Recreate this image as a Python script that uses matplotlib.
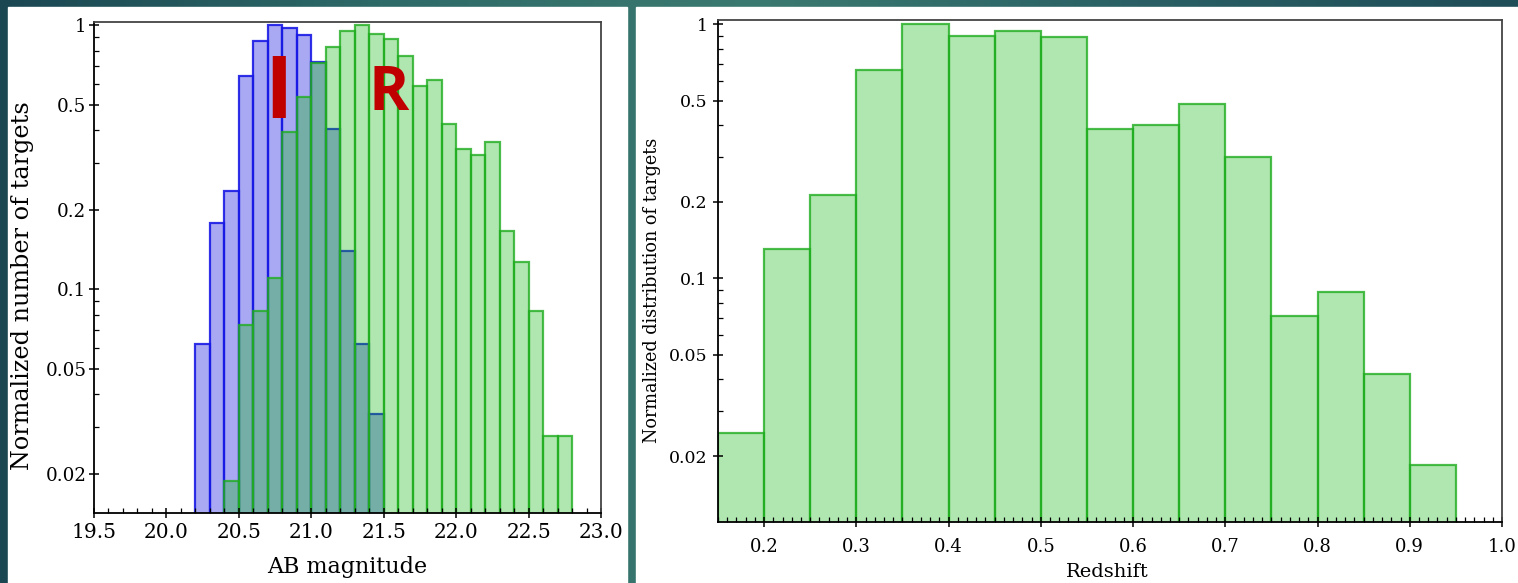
import matplotlib
matplotlib.use('Agg')
import matplotlib.pyplot as plt
import numpy as np
from matplotlib.colors import LinearSegmentedColormap
from matplotlib.patches import Rectangle
from matplotlib.ticker import FixedLocator, MultipleLocator, LogLocator, NullFormatter, FormatStrFormatter

# AB magnitude histograms, bin width 0.1
mag_bin = 0.1
mag_I_start = 20.2
mag_I = [0.061, 0.177, 0.234, 0.643, 0.87, 1.0, 0.97, 0.917, 0.726,
         0.404, 0.138, 0.0608, 0.0328]
mag_R_start = 20.4
mag_R = [0.0177, 0.0724, 0.0813, 0.109, 0.392, 0.531, 0.72, 0.824, 0.949,
         1.0, 0.925, 0.883, 0.765, 0.587, 0.619, 0.422, 0.338, 0.320, 0.36,
         0.165, 0.126, 0.0813, 0.0268, 0.0268]

# redshift histogram, bin width 0.05
z_bin = 0.05
z_start = 0.15
z_counts = [0.0236, 0.1295, 0.212, 0.659, 1.0, 0.898, 0.935, 0.886,
            0.385, 0.402, 0.485, 0.298, 0.0698, 0.0874, 0.041, 0.0175]

log_ticks = [0.02, 0.05, 0.1, 0.2, 0.5, 1]
log_labels = ['0.02', '0.05', '0.1', '0.2', '0.5', '1']

W, H = 1518, 583
fig = plt.figure(figsize=(W / 100, H / 100), dpi=100)

# teal backdrop with white panels
bg = fig.add_axes([0, 0, 1, 1], zorder=-10)
cmap = LinearSegmentedColormap.from_list('bg', ['#1b4753', '#2e6a68', '#3b7a70', '#2a6065', '#1f4d58'])
grad = np.linspace(0, 1, 256).reshape(1, -1)
bg.imshow(grad, cmap=cmap, aspect='auto', extent=[0, 1, 0, 1])
bg.add_patch(Rectangle((8 / W, 0), (627 - 8) / W, (H - 7) / H, color='white'))
bg.add_patch(Rectangle((636 / W, 0), (W - 636) / W, (H - 7) / H, color='white'))
bg.set_xlim(0, 1)
bg.set_ylim(0, 1)
bg.axis('off')

serif = 'DejaVu Serif'
green_face = (0.06, 0.72, 0.06, 0.33)
green_edge = (0.12, 0.68, 0.12, 0.8)
blue_face = (0.0, 0.02, 0.85, 0.34)
blue_edge = (0.1, 0.1, 0.9, 0.9)


def style_axes(ax, xsize, ysize):
    for side in ['left', 'bottom']:
        ax.spines[side].set_color('black')
        ax.spines[side].set_linewidth(1.3)
    for side in ['top', 'right']:
        ax.spines[side].set_color('#444444')
        ax.spines[side].set_linewidth(1.3)
    ax.set_yscale('log')
    ax.yaxis.set_major_locator(FixedLocator(log_ticks))
    ax.set_yticklabels(log_labels)
    ax.yaxis.set_minor_locator(LogLocator(base=10, subs=np.arange(2, 10)))
    ax.yaxis.set_minor_formatter(NullFormatter())
    ax.tick_params(which='major', direction='inout', length=7, width=1.1,
                   top=False, right=False)
    ax.tick_params(which='minor', direction='in', length=3.5, width=0.9,
                   top=False, right=False)
    ax.tick_params(axis='x', labelsize=xsize)
    ax.tick_params(axis='y', labelsize=ysize)
    for lab in ax.get_xticklabels() + ax.get_yticklabels():
        lab.set_fontfamily(serif)


# left: I and R magnitude distributions (R drawn over I)
ax1 = fig.add_axes([94 / W, 1 - 513 / H, (601 - 94) / W, (513 - 21.7) / H])
xI = mag_I_start + mag_bin * np.arange(len(mag_I))
xR = mag_R_start + mag_bin * np.arange(len(mag_R))
ax1.bar(xI, mag_I, width=mag_bin, align='edge', bottom=1e-3,
        color=blue_face, edgecolor=blue_edge, linewidth=1.6)
ax1.bar(xR, mag_R, width=mag_bin, align='edge', bottom=1e-3,
        color=green_face, edgecolor=green_edge, linewidth=1.6)
ax1.set_xlim(19.5, 23.0)
ax1.set_ylim(0.0142, 1.03)
ax1.xaxis.set_major_locator(MultipleLocator(0.5))
ax1.xaxis.set_minor_locator(MultipleLocator(0.1))
ax1.xaxis.set_major_formatter(FormatStrFormatter('%.1f'))
style_axes(ax1, 14.5, 13.2)
ax1.tick_params(axis='x', pad=4)
ax1.tick_params(axis='y', pad=2)
ax1.set_xlabel('AB magnitude', fontsize=16, family=serif)
ax1.xaxis.label.set_va('center')
ax1.xaxis.set_label_coords(0.5, -0.110)
ax1.set_ylabel('Normalized number of targets', fontsize=17.2, family=serif)
ax1.yaxis.label.set_va('center')
ax1.yaxis.set_label_coords(-0.142, 0.462)

ax1.text(20.777, 0.4455, 'I', color='#c00000', fontsize=62, fontweight='bold',
         family='Open Sans', ha='center', va='baseline')
ax1.text(21.536, 0.4765, 'R', color='#c00000', fontsize=44, fontweight='bold',
         family='Open Sans', ha='center', va='baseline')

# right: redshift distribution
ax2 = fig.add_axes([718 / W, 1 - 522 / H, (1502 - 718) / W, (522 - 20.4) / H])
xz = z_start + z_bin * np.arange(len(z_counts))
ax2.bar(xz, z_counts, width=z_bin, align='edge', bottom=1e-3,
        color=green_face, edgecolor=green_edge, linewidth=1.6)
ax2.set_xlim(0.15, 1.0)
ax2.set_ylim(0.011, 1.035)
ax2.xaxis.set_major_locator(FixedLocator(np.round(np.arange(0.2, 1.01, 0.1), 1)))
ax2.xaxis.set_minor_locator(MultipleLocator(0.01))
ax2.xaxis.set_major_formatter(FormatStrFormatter('%.1f'))
style_axes(ax2, 13, 12.5)
ax2.tick_params(axis='x', pad=8)
ax2.tick_params(axis='y', pad=4)
ax2.set_xlabel('Redshift', fontsize=14, family=serif)
ax2.xaxis.label.set_va('center')
ax2.xaxis.set_label_coords(0.497, -0.0997)
ax2.set_ylabel('Normalized distribution of targets', fontsize=12.7, family=serif)
ax2.yaxis.label.set_va('center')
ax2.yaxis.set_label_coords(-0.084, 0.4625)

fig.savefig('out.png', dpi=100)
